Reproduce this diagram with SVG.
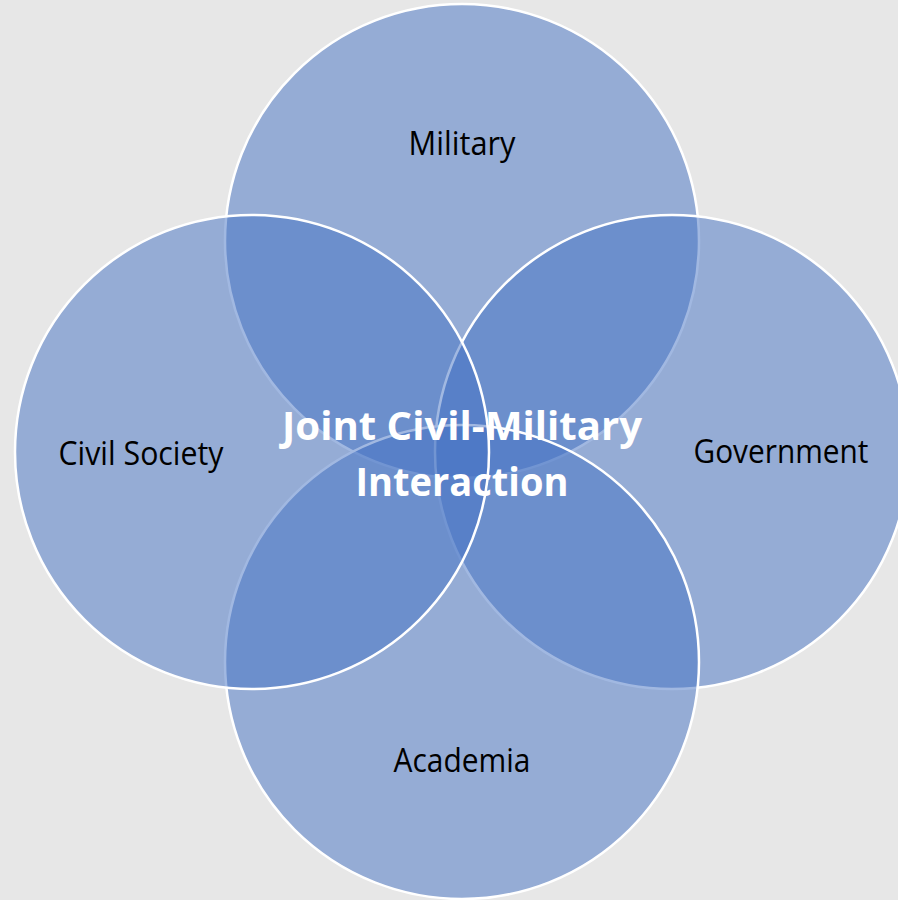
<svg xmlns="http://www.w3.org/2000/svg" width="898" height="900" viewBox="0 0 898 900">
<style>
.c{fill:#4472c4;fill-opacity:0.5;stroke:#ffffff;stroke-width:2.5}
.lbl{font-family:"Open Sans","Liberation Sans",sans-serif;font-size:32px;fill:#000000;text-anchor:middle}
.ctr{font-family:"Open Sans","Liberation Sans",sans-serif;font-size:40px;font-weight:bold;fill:#ffffff;text-anchor:middle}
</style>
<rect x="0" y="0" width="898" height="900" fill="#e7e7e7"/>
<g id="military"><circle class="c" cx="462" cy="241" r="237"/></g>
<g id="government"><circle class="c" cx="672" cy="452" r="237"/></g>
<g id="academia"><circle class="c" cx="462" cy="662" r="237"/></g>
<g id="civil-society"><circle class="c" cx="252" cy="452" r="237"/></g>
<g id="connectors"></g>
<g id="labels">
<text class="lbl" x="462" y="155" textLength="107" lengthAdjust="spacingAndGlyphs">Military</text>
<text class="lbl" x="781" y="463" textLength="175" lengthAdjust="spacingAndGlyphs">Government</text>
<text class="lbl" x="462" y="772" textLength="137" lengthAdjust="spacingAndGlyphs">Academia</text>
<text class="lbl" x="141" y="465" textLength="165" lengthAdjust="spacingAndGlyphs">Civil Society</text>
<text class="ctr" x="462" y="440" textLength="360" lengthAdjust="spacingAndGlyphs">Joint Civil-Military</text>
<text class="ctr" x="462" y="496" textLength="213" lengthAdjust="spacingAndGlyphs">Interaction</text>
</g>
</svg>
